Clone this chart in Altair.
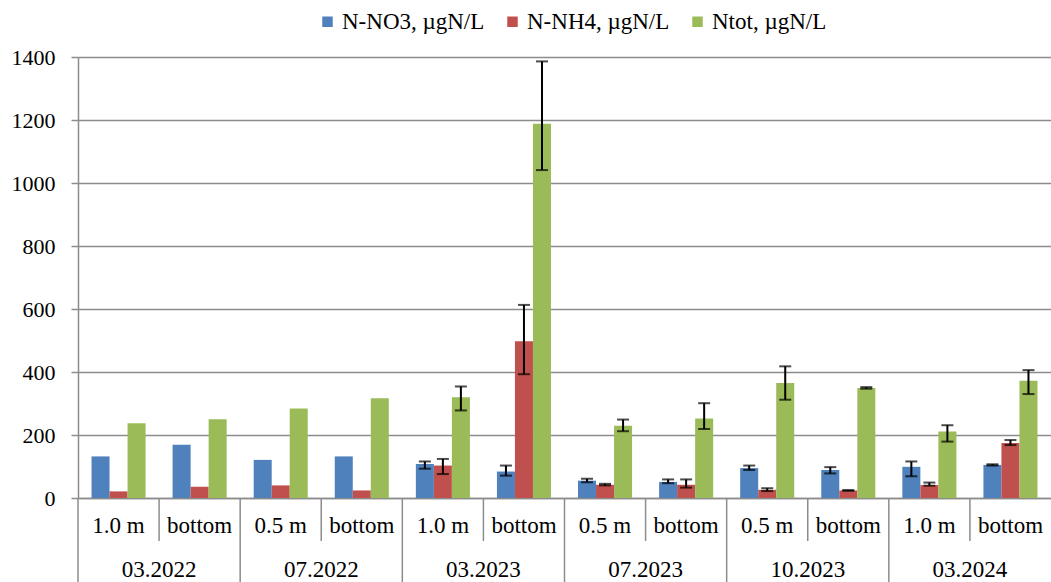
import altair as alt
import pandas as pd

dates = ["03.2022", "07.2022", "03.2023", "07.2023", "10.2023", "03.2024"]
depths = ["1.0 m", "bottom", "0.5 m", "bottom", "1.0 m", "bottom",
          "0.5 m", "bottom", "0.5 m", "bottom", "1.0 m", "bottom"]
series = ["N-NO3, µgN/L", "N-NH4, µgN/L", "Ntot, µgN/L"]
colors = ["#4F81BD", "#C0504D", "#9BBB59"]

no3 = [132, 169, 121, 132, 108, 84, 55, 51, 95, 89, 99, 105]
no3_lo = [None, None, None, None, 93, 71, 50, 47, 89, 78, 69, 103]
no3_hi = [None, None, None, None, 116, 103, 61, 59, 103, 98, 116, 107]

nh4 = [21, 36, 40, 24, 103, 498, 42, 42, 26, 24, 41, 175]
nh4_lo = [None, None, None, None, 76, 393, 40, 33, 22, 23, 39, 168]
nh4_hi = [None, None, None, None, 124, 613, 45, 59, 31, 25, 49, 184]

ntot = [237, 250, 284, 317, 320, 1188, 229, 252, 365, 349, 211, 372]
ntot_lo = [None, None, None, None, 278, 1041, 212, 219, 312, 347, 179, 330]
ntot_hi = [None, None, None, None, 354, 1386, 249, 301, 418, 352, 231, 406]

y_ticks = [0, 200, 400, 600, 800, 1000, 1200, 1400]

groups = [f"{dates[i // 2]}|{depths[i]}" for i in range(12)]

rows = []
for s, vals, lo, hi in zip(series, [no3, nh4, ntot], [no3_lo, nh4_lo, ntot_lo], [no3_hi, nh4_hi, ntot_hi]):
    for g, v, l, h in zip(groups, vals, lo, hi):
        rows.append(dict(grp=g, series=s, value=v, lo=l, hi=h))
df = pd.DataFrame(rows)

W, H = 973, 441
FONT = "Liberation Serif"
GRID = "#8C8C8C"

x_enc = alt.X("grp:N", sort=groups, scale=alt.Scale(paddingInner=0, paddingOuter=0),
              axis=alt.Axis(title=None, labelExpr="split(datum.label,'|')[1]", ticks=False,
                            labelPadding=16, labelFontSize=23, labelFont=FONT, labelColor="black",
                            labelAngle=0, domainColor=GRID, domainWidth=1.5))
xoff = alt.XOffset("series:N", sort=series, scale=alt.Scale(paddingInner=0, paddingOuter=0.75))
y_scale = alt.Scale(domain=[0, 1400], nice=False)

base = alt.Chart(df)

bars = base.mark_bar().encode(
    x=x_enc,
    xOffset=xoff,
    y=alt.Y("value:Q", scale=y_scale,
            axis=alt.Axis(values=y_ticks, format="d", title=None, tickSize=7, labelPadding=16,
                          labelFontSize=22, labelFont=FONT, labelColor="black",
                          gridColor=GRID, gridWidth=1.5, tickColor=GRID, tickWidth=1.5,
                          domainColor=GRID, domainWidth=1.5)),
    color=alt.Color("series:N", sort=series, scale=alt.Scale(domain=series, range=colors),
                    legend=alt.Legend(title=None, orient="none", legendX=238, legendY=-47,
                                      direction="horizontal", symbolType="square", symbolSize=110,
                                      symbolStrokeWidth=0, labelFontSize=23, labelFont=FONT,
                                      labelColor="black", columnPadding=16, labelOffset=3)),
)

err = base.transform_filter("isValid(datum.lo)")
err_rule = err.mark_rule(color="black", strokeWidth=2).encode(
    x=alt.X("grp:N", sort=groups), xOffset=xoff,
    y=alt.Y("lo:Q", scale=y_scale), y2="hi:Q")
cap_hi = err.mark_tick(color="black", thickness=2, size=12, orient="horizontal").encode(
    x=alt.X("grp:N", sort=groups), xOffset=xoff, y=alt.Y("hi:Q", scale=y_scale))
cap_lo = err.mark_tick(color="black", thickness=2, size=12, orient="horizontal").encode(
    x=alt.X("grp:N", sort=groups), xOffset=xoff, y=alt.Y("lo:Q", scale=y_scale))

sep_df = pd.DataFrame({"grp": groups, "idx": list(range(12))})
sep_long = alt.Chart(sep_df).transform_filter("datum.idx % 2 == 0").mark_rule(
    color=GRID, strokeWidth=1.5).encode(
    x=alt.X("grp:N", sort=groups, bandPosition=0), y=alt.value(H), y2=alt.value(H + 84))
sep_short = alt.Chart(sep_df).transform_filter("datum.idx % 2 == 1").mark_rule(
    color=GRID, strokeWidth=1.5).encode(
    x=alt.X("grp:N", sort=groups, bandPosition=0), y=alt.value(H), y2=alt.value(H + 43))

date_df = pd.DataFrame({"grp": [groups[2 * i + 1] for i in range(6)], "date": dates})
date_text = alt.Chart(date_df).mark_text(fontSize=23, font=FONT, color="black",
                                         baseline="middle").encode(
    x=alt.X("grp:N", sort=groups, bandPosition=0), y=alt.value(H + 72), text="date:N")

chart = alt.layer(bars, err_rule, cap_hi, cap_lo, sep_long, sep_short, date_text).properties(
    width=W, height=H,
    autosize=alt.AutoSizeParams(type="none"),
    padding={"left": 78, "top": 57, "right": 0, "bottom": 84},
).configure_view(stroke=None).configure_axis(labelFont=FONT).configure_legend(labelFont=FONT)

chart.save("out.html", embed_options={"renderer": "svg", "actions": False})
